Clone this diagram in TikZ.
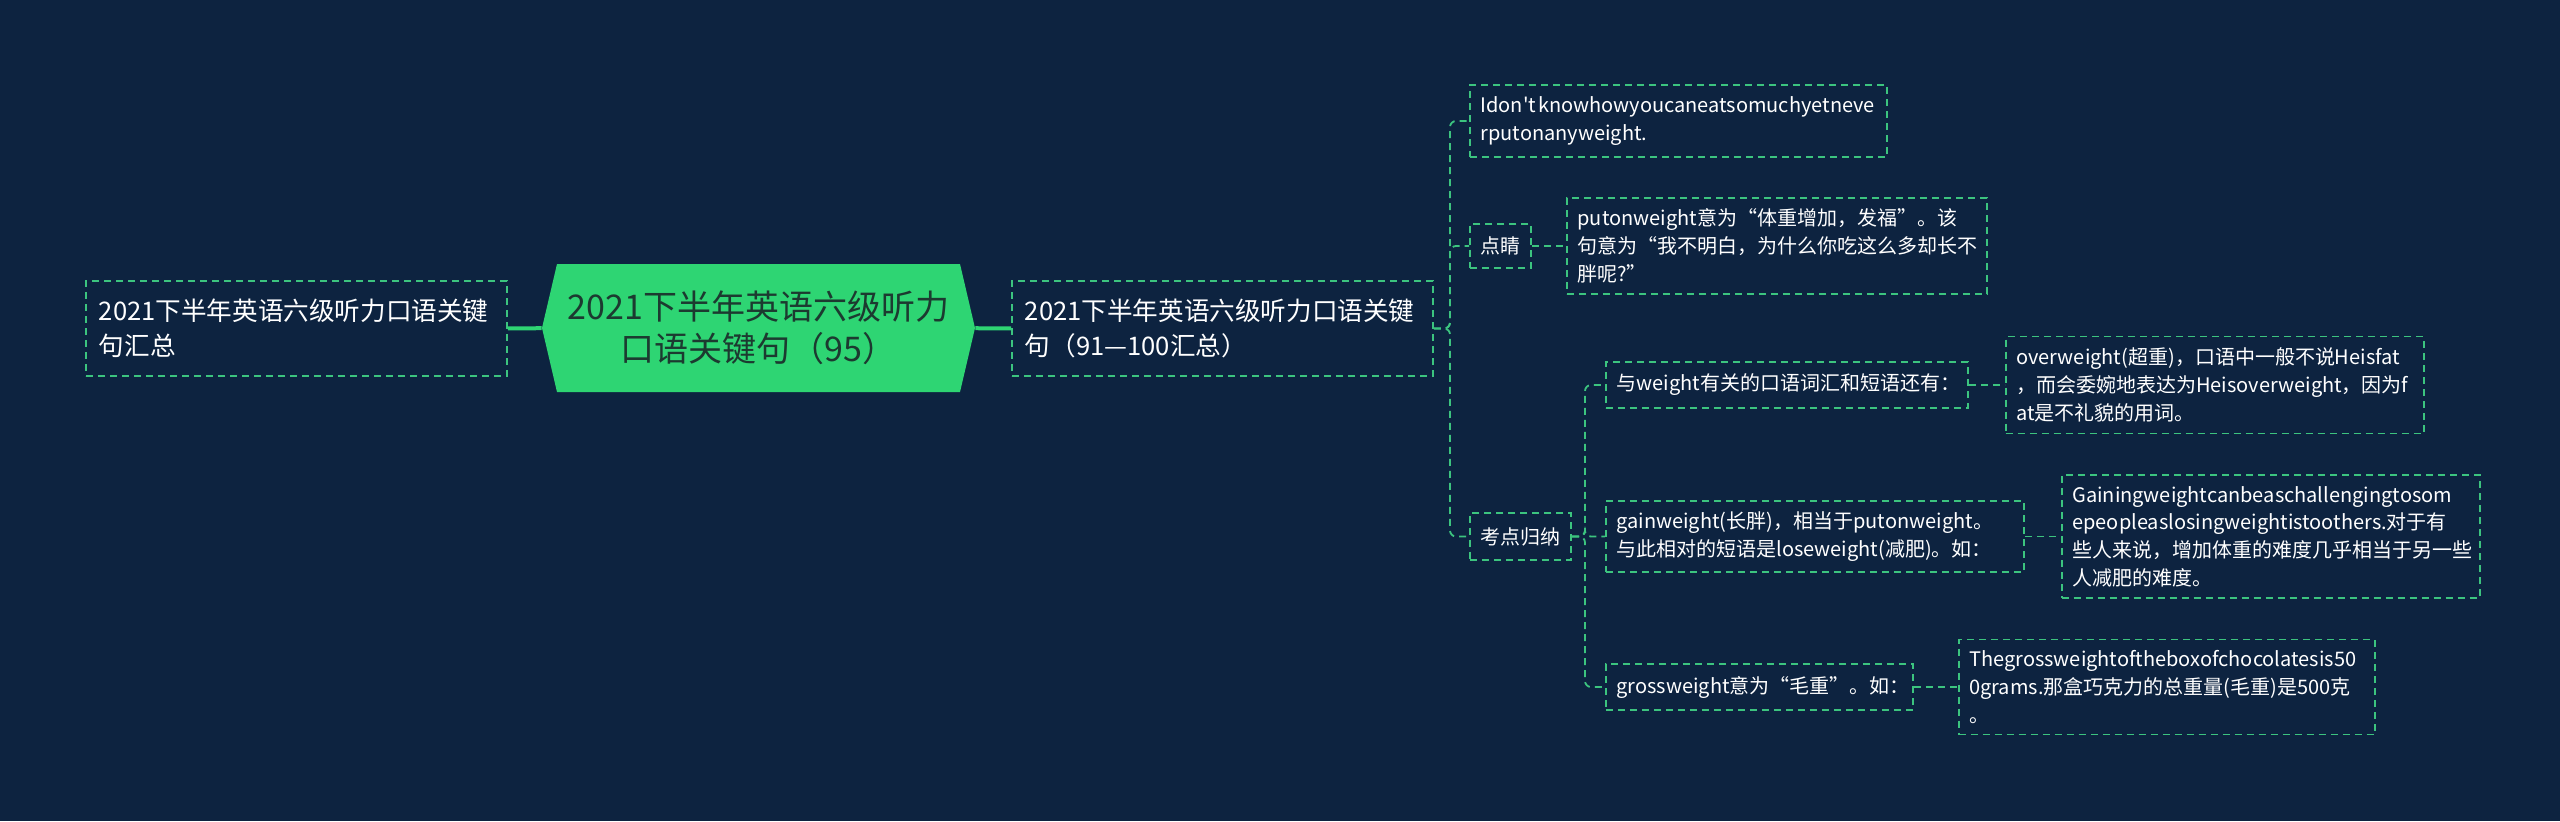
\documentclass[tikz,border=0pt]{standalone}
\usepackage{fontspec}
\setmainfont{Noto Sans CJK SC}
\newfontfamily\mapfont{Noto Sans CJK SC}
\usetikzlibrary{positioning}
\definecolor{mapnavy}{HTML}{0D2340}
\definecolor{mapgreen}{HTML}{2ED573}
\definecolor{linkgreen}{HTML}{3CC47F}
\definecolor{rootink}{HTML}{1C3A30}
\tikzset{
  rootbox/.style={
    text=rootink,
    align=center,
    minimum width=216.5pt,
    minimum height=64pt,
    font=\mapfont\fontsize{17}{21}\selectfont
  },
  mainbox/.style={
    draw=linkgreen,
    dash pattern=on 3.5pt off 2.5pt,
    line width=0.9pt,
    text=white,
    align=left,
    inner xsep=6.5pt,
    inner ysep=0pt,
    font=\mapfont\fontsize{12.8}{17.5}\selectfont
  },
  leafbox/.style={
    draw=linkgreen,
    dash pattern=on 3.5pt off 2.5pt,
    line width=0.9pt,
    text=white,
    align=left,
    inner xsep=5.3pt,
    inner ysep=0pt,
    font=\mapfont\fontsize{10}{13.85}\selectfont
  },
  link/.style={
    draw=linkgreen,
    dash pattern=on 3.5pt off 2.5pt,
    line width=0.9pt,
    rounded corners=3pt
  },
  trunk/.style={
    draw=mapgreen,
    line width=2pt
  }
}

\begin{document}
\begin{tikzpicture}[x=0.5pt,y=-0.5pt]
\fill[mapnavy] (0,0) rectangle (2560,821);
% central topic
\fill[mapgreen] (557,264) -- (960,264) -- (975,328) -- (960,392) -- (557,392) -- (542,328) -- cycle;
\node[rootbox] (root) at (758.5,328) {2021下半年英语六级听力\\口语关键句（95）};
\node[mainbox, anchor=west, text width=197.5pt, minimum height=47.5pt] (summary) at (85,328.5) {2021下半年英语六级听力口语关键\\句汇总};
\node[mainbox, anchor=west, text width=197.5pt, minimum height=47.5pt] (range) at (1011,328.5) {2021下半年英语六级听力口语关键\\句（91—100汇总）};
% first level
\node[leafbox, anchor=west, text width=197.9pt, minimum height=36pt] (sentence) at (1469,121) {Idon't\kern1pt knowhowyoucaneatsomuchyetneve\\rputonanyweight.};
\node[leafbox, anchor=west, text width=20pt, minimum height=22pt] (hint) at (1469,246) {点睛};
\node[leafbox, right=17pt of hint, text width=199.4pt, minimum height=48pt] (hintnote) {putonweight意为“体重增加，发福”。该\\句意为“我不明白，为什么你吃这么多却长不\\胖呢?”};
\node[leafbox, anchor=west, text width=40pt, minimum height=23.5pt] (points) at (1469,536.5) {考点归纳};
% key points
\node[leafbox, anchor=west, text width=170.4pt, minimum height=23pt] (related) at (1605,385) {与weight有关的口语词汇和短语还有：};
\node[leafbox, right=18pt of related, text width=198.4pt, minimum height=48.5pt] (relatednote) {overweight(超重)，口语中一般不说Heisfat\\，而会委婉地表达为Heisoverweight，因为f\\at是不礼貌的用词。};
\node[leafbox, anchor=west, text width=198.4pt, minimum height=35.5pt] (gain) at (1605,536.5) {gainweight(长胖)，相当于putonweight。\\与此相对的短语是loseweight(减肥)。如：};
\node[leafbox, right=18pt of gain, text width=198.4pt, minimum height=61.5pt] (gainnote) {Gainingweightcanbeaschallengingtosom\\epeopleaslosingweightistoothers.对于有\\些人来说，增加体重的难度几乎相当于另一些\\人减肥的难度。};
\node[leafbox, anchor=west, text width=142.9pt, minimum height=23pt] (gross) at (1605,687) {grossweight意为“毛重”。如：};
\node[leafbox, right=22pt of gross, text width=197.4pt, minimum height=47.5pt] (grossnote) {Thegrossweightoftheboxofchocolatesis50\\0grams.那盒巧克力的总重量(毛重)是500克\\。};
% connectors
\coordinate (hubA) at (1450,328.5);
\coordinate (hubB) at (1585,536.5);
\draw[trunk] (summary) -- (root);
\draw[trunk] (root) -- (range);
\draw[link] (range.east) -- (hubA) |- (sentence.west);
\draw[link] (range.east) -- (hubA) |- (hint.west);
\draw[link] (range.east) -- (hubA) |- (points.west);
\draw[link] (hint) -- (hintnote);
\draw[link] (points.east) -- (hubB) |- (related.west);
\draw[link] (points.east) -- (hubB) |- (gain.west);
\draw[link] (points.east) -- (hubB) |- (gross.west);
\draw[link] (related) -- (relatednote);
\draw[link] (gain) -- (gainnote);
\draw[link] (gross) -- (grossnote);
\end{tikzpicture}
\end{document}
